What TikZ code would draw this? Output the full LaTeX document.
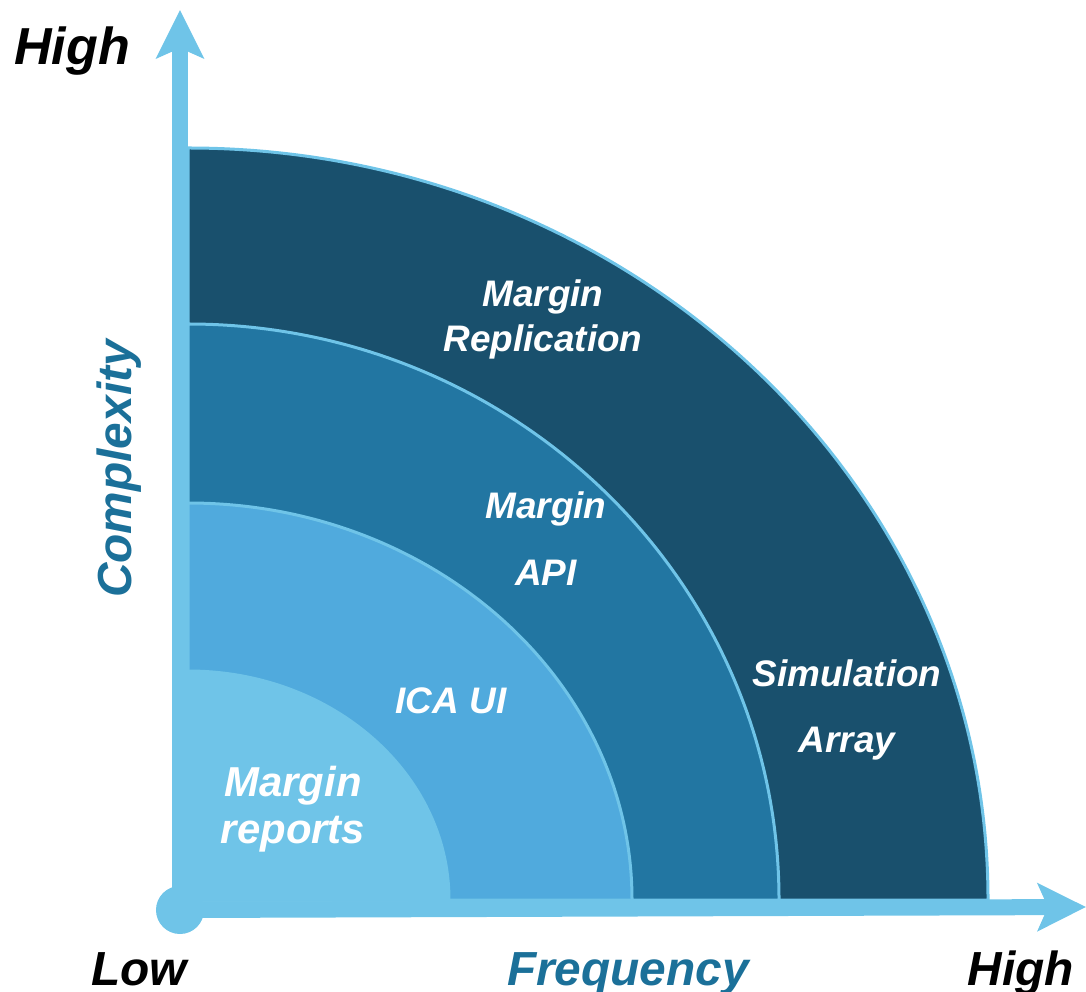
\documentclass[tikz,border=0pt]{standalone}
\usepackage{fontspec}
\setmainfont{Liberation Sans}
\usetikzlibrary{arrows.meta}
\definecolor{axisblue}{HTML}{6FC4E8}
\definecolor{ringA}{HTML}{50AADD}
\definecolor{ringB}{HTML}{2276A2}
\definecolor{ringC}{HTML}{19506D}
\definecolor{titleblue}{HTML}{1B7099}
\tikzstyle{ring}=[draw=axisblue,line width=0.03cm]
\tikzstyle{axis}=[draw=axisblue,line width=0.16cm,-{Stealth[length=0.48cm,width=0.47cm,inset=0.1cm]}]
\tikzstyle{ringtext}=[white,font=\fontsize{10.5}{12.8}\selectfont\bfseries\itshape,align=center,anchor=base,inner sep=0]
\tikzstyle{endtext}=[black,font=\fontsize{13.6}{16}\selectfont\bfseries\itshape,anchor=base,inner sep=0]
\tikzstyle{titletext}=[titleblue,font=\fontsize{13.6}{16}\selectfont\bfseries\itshape,inner sep=0]

\begin{document}
\begin{tikzpicture}[x=0.01cm,y=-0.01cm]
  \useasboundingbox (0,0) rectangle (1086,992);

  % rings, outer first
  \filldraw[ring,fill=ringC] (188,900) -- (188,148)
    arc[start angle=-90,end angle=0,x radius=800,y radius=752] -- cycle;
  \filldraw[ring,fill=ringB] (188,900) -- (188,324)
    arc[start angle=-90,end angle=0,x radius=591,y radius=576] -- cycle;
  \filldraw[ring,fill=ringA] (188,900) -- (188,503)
    arc[start angle=-90,end angle=0,x radius=444,y radius=397] -- cycle;
  \filldraw[ring,fill=axisblue] (188,900) -- (188,671)
    arc[start angle=-90,end angle=0,x radius=261,y radius=229] -- cycle;

  % axes
  \node[circle,fill=axisblue,minimum size=0.48cm,inner sep=0] (origin) at (180,910) {};
  \coordinate (ytip) at (180,10);
  \coordinate (xtip) at (1086,907);
  \draw[axis] (origin.center) -- (ytip);
  \draw[axis] (origin.center) -- (xtip);

  \node[endtext,font=\fontsize{14.8}{17}\selectfont\bfseries\itshape] (yhigh) at (72,65) {High};
  \node[endtext] (xlow) at (139,985) {Low};
  \node[endtext] (xhigh) at (1021,985) {High};
  \node[titletext,anchor=base] (xtitle) at (628,985) {Frequency};
  \node[titletext,rotate=90] (ytitle) at (119,469) {Complexity};

  % ring labels (anchored at the last line)
  \node[ringtext] (replication) at (543,352) {Margin\\Replication};
  \node[ringtext] (api) at (546,585) {Margin\\[6.2pt]API};
  \node[ringtext] (icaui) at (451,713) {ICA UI};
  \node[ringtext] (simulation) at (847,752) {Simulation\\[5.7pt]Array};
  \node[ringtext,font=\fontsize{11.9}{13.1}\selectfont\bfseries\itshape] (reports) at (293,843) {Margin\\reports};
\end{tikzpicture}
\end{document}
